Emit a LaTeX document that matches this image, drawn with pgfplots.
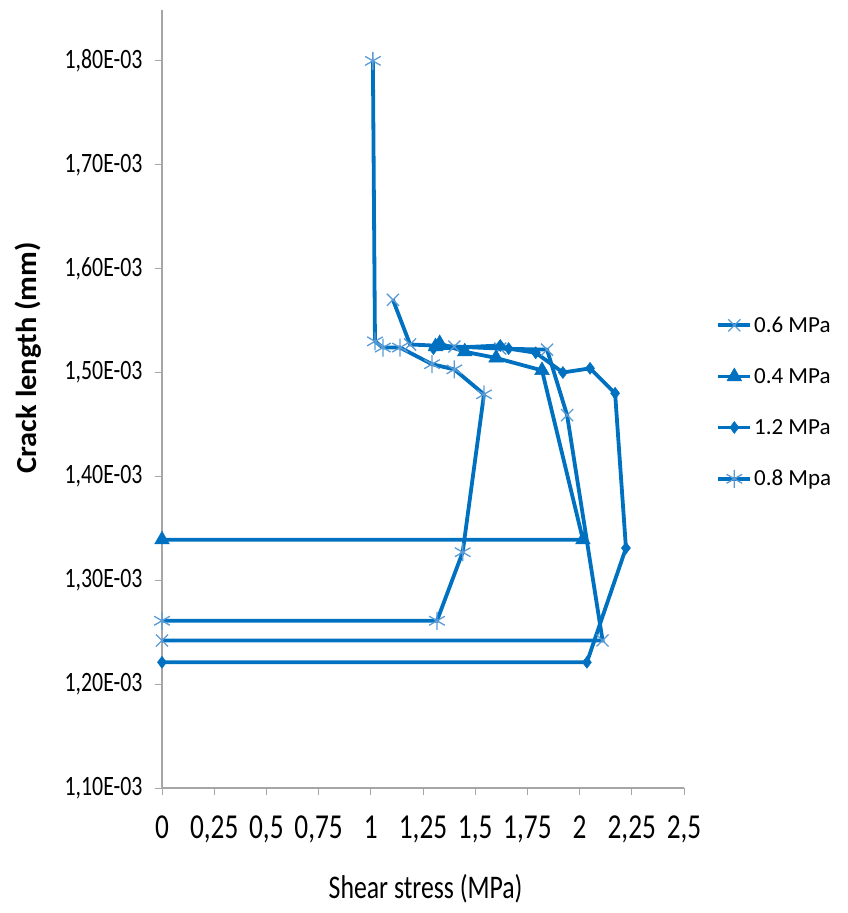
\documentclass[border=0pt]{standalone}
\usepackage{fontspec}
\setmainfont{Carlito}[FakeStretch=0.78]
\newfontfamily\legfont{Carlito}
\newfontfamily\ylabfont{Carlito}[FakeStretch=1.05]
\usepackage{pgfplots}
\pgfplotsset{compat=1.18}
\definecolor{xlblue}{HTML}{0070C0}
\definecolor{mkblue}{HTML}{5B9BD5}
\definecolor{axgray}{HTML}{A6A6A6}

\begin{document}
\begin{tikzpicture}
\useasboundingbox (0,0) rectangle (848bp,913bp);
\begin{axis}[
    at={(162bp,125bp)}, anchor=south west,
    scale only axis, width=522bp, height=778bp,
    xmin=0, xmax=2.5, ymin=1.1, ymax=1.849,
    clip=false,
    axis x line*=bottom, axis y line*=left,
    axis line style={draw=axgray, line width=1.2bp},
    tick align=outside, major tick length=7bp,
    tick style={draw=axgray, line width=1bp},
    xtick={0,0.25,0.5,0.75,1,1.25,1.5,1.75,2,2.25,2.5},
    xticklabels={0,{0,25},{0,5},{0,75},1,{1,25},{1,5},{1,75},2,{2,25},{2,5}},
    ytick={1.1,1.2,1.3,1.4,1.5,1.6,1.7,1.8},
    yticklabels={{1,10E-03},{1,20E-03},{1,30E-03},{1,40E-03},{1,50E-03},{1,60E-03},{1,70E-03},{1,80E-03}},
    xticklabel style={font=\fontsize{35bp}{38bp}\selectfont, yshift=-17bp},
    yticklabel style={font=\fontsize{28bp}{30bp}\selectfont, xshift=-9bp},
    xlabel={Shear stress (MPa)},
    xlabel style={at={(axis description cs:0.505,0)}, anchor=center, yshift=-101bp,
        font=\fontsize{33bp}{36bp}\selectfont},
    ylabel={Crack length (mm)},
    ylabel style={at={(axis description cs:-0.257,0.553)}, anchor=center,
        font=\ylabfont\bfseries\fontsize{29bp}{32bp}\selectfont},
    legend style={at={(1.062,0.496)}, anchor=west, draw=none, fill=none,
        font=\legfont\fontsize{23bp}{25bp}\selectfont, row sep=30.5bp,
        inner sep=0pt, nodes={inner sep=2bp}},
    legend cell align=left,
    legend image code/.code={\draw[mark repeat=2,mark phase=2]
        plot coordinates {(0cm,0cm) (0.56cm,0cm) (1.12cm,0cm)};},
    every axis plot/.append style={xlblue, line width=3.8bp},
]
% 0.6 MPa
\addplot[mark=x, mark size=8.5bp, mark options={draw=mkblue, line width=1.3bp}]
coordinates {(1.106,1.570) (1.188,1.527) (1.40,1.525) (1.62,1.523) (1.844,1.522)
             (1.94,1.459) (2.11,1.242) (0,1.242)};
\addlegendentry{0.6 MPa}
% 0.4 MPa
\addplot[mark=triangle*, mark size=8.5bp, mark options={fill=xlblue, draw=xlblue, line width=0.5bp}]
coordinates {(1.31,1.525) (1.33,1.528) (1.45,1.520) (1.60,1.514) (1.82,1.502)
             (2.016,1.339) (0,1.339)};
\addlegendentry{0.4 MPa}
% 1.2 MPa
\addplot[mark=diamond*, mark size=6bp, mark options={fill=xlblue, draw=xlblue, line width=0.5bp}]
coordinates {(1.30,1.523) (1.62,1.526) (1.66,1.523) (1.79,1.519) (1.92,1.500)
             (2.05,1.504) (2.17,1.480) (2.222,1.331) (2.035,1.221) (0,1.221)};
\addlegendentry{1.2 MPa}
% 0.8 Mpa
\addplot[mark=asterisk, mark size=9bp, mark options={draw=mkblue, line width=1.3bp}]
coordinates {(1.01,1.800) (1.02,1.530) (1.058,1.524) (1.14,1.524) (1.293,1.508)
             (1.40,1.503) (1.542,1.479) (1.44,1.327) (1.317,1.261) (0,1.261)};
\addlegendentry{0.8 Mpa}
\end{axis}
\end{tikzpicture}
\end{document}
